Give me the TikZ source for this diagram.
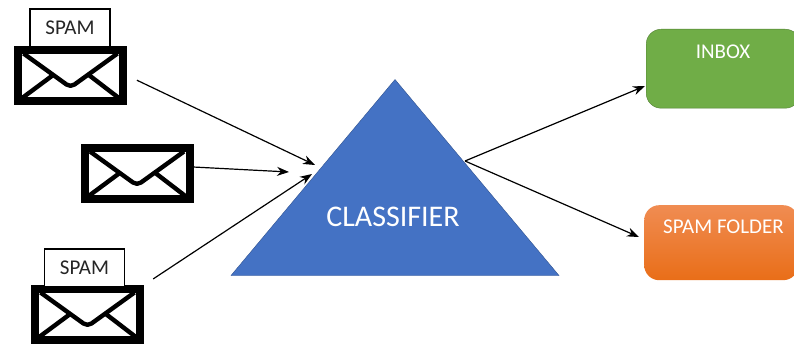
\documentclass[tikz,border=0pt]{standalone}
\usepackage{fontspec}
\setmainfont{Carlito}
\usetikzlibrary{positioning}
\usetikzlibrary{arrows.meta}
\usetikzlibrary{shapes.geometric}
\tikzset{
  mail/.style={draw=black,fill=white,line width=8pt,minimum width=105pt,minimum height=51pt,inner sep=0},
  flap/.style={line width=4.4pt,line join=round},
  spamtag/.style={draw=black,fill=white,line width=1.2pt,minimum width=80pt,minimum height=38pt,inner sep=0,text=black!85,font=\fontsize{21}{24}\selectfont},
  folder/.style={rounded corners=15pt,inner sep=0,minimum width=154pt},
  foldertext/.style={text=white,inner sep=0,font=\fontsize{21}{24}\selectfont},
  link/.style={line width=1.2pt,-{Stealth[length=12pt,width=9pt]}}
}
\begin{document}
\begin{tikzpicture}[x=1pt,y=-1pt]
  \useasboundingbox (0,0) rectangle (794,347);
  % mails on the left
  \node[mail](mailone) at (70.5,75.5) {};
  \node[mail](mailtwo) at (137,173.5) {};
  \node[mail](mailthree) at (87.5,314.5) {};
  \foreach \m in {mailone,mailtwo,mailthree} {
    \draw[flap] ([shift={(-47,-22)}]\m.center) -- ([shift={(-4,9)}]\m.center) to[bend right=35] ([shift={(4,9)}]\m.center) -- ([shift={(47,-22)}]\m.center);
    \draw[flap] ([shift={(-49,23)}]\m.center) -- ([shift={(-18,0)}]\m.center);
    \draw[flap] ([shift={(49,23)}]\m.center) -- ([shift={(19,0)}]\m.center);
  }
  \node[spamtag](tagone) at (70,28) {SPAM};
  \node[spamtag](tagthree) at (84.5,268) {SPAM};
  % classifier
  \node[isosceles triangle,shape border rotate=90,isosceles triangle stretches,fill={rgb,255:red,68;green,114;blue,196},draw={rgb,255:red,47;green,82;blue,143},line width=0.4pt,minimum width=328pt,minimum height=196pt,inner sep=0,anchor=apex](classifier) at (395,79) {};
  \node[text=white,inner sep=0,font=\fontsize{30}{36}\selectfont](classifiertext) at (393,217) {CLASSIFIER};
  % folders on the right
  \node[folder,anchor=north west,minimum height=79pt,fill={rgb,255:red,112;green,173;blue,71},draw={rgb,255:red,80;green,126;blue,50}](inbox) at (646,29) {};
  \node[folder,anchor=north west,minimum height=75pt,top color={rgb,255:red,240;green,140;blue,82},middle color={rgb,255:red,246;green,124;blue,38},bottom color={rgb,255:red,233;green,110;blue,24}](spamfolder) at (644,205) {};
  \node[foldertext](inboxtext) at (723,52) {INBOX};
  \node[foldertext](spamfoldertext) at (723.5,227) {SPAM FOLDER};
  % arrow ends
  \coordinate (tipone) at (315,165);
  \coordinate (starttwo) at (193,167);
  \coordinate (tiptwo) at (289,172);
  \coordinate (tipthree) at (312,174);
  \coordinate (fork) at (465,161);
  \coordinate (inboxin) at (645,86);
  \coordinate (spamin) at (639,237);
  \draw[link,shorten <=11pt] (mailone.east)--(tipone);
  \draw[link] (starttwo)--(tiptwo);
  \draw[link,shorten <=11pt] (mailthree.north east)--(tipthree);
  \draw[link] (fork)--(inboxin);
  \draw[link] (fork)--(spamin);
\end{tikzpicture}
\end{document}
